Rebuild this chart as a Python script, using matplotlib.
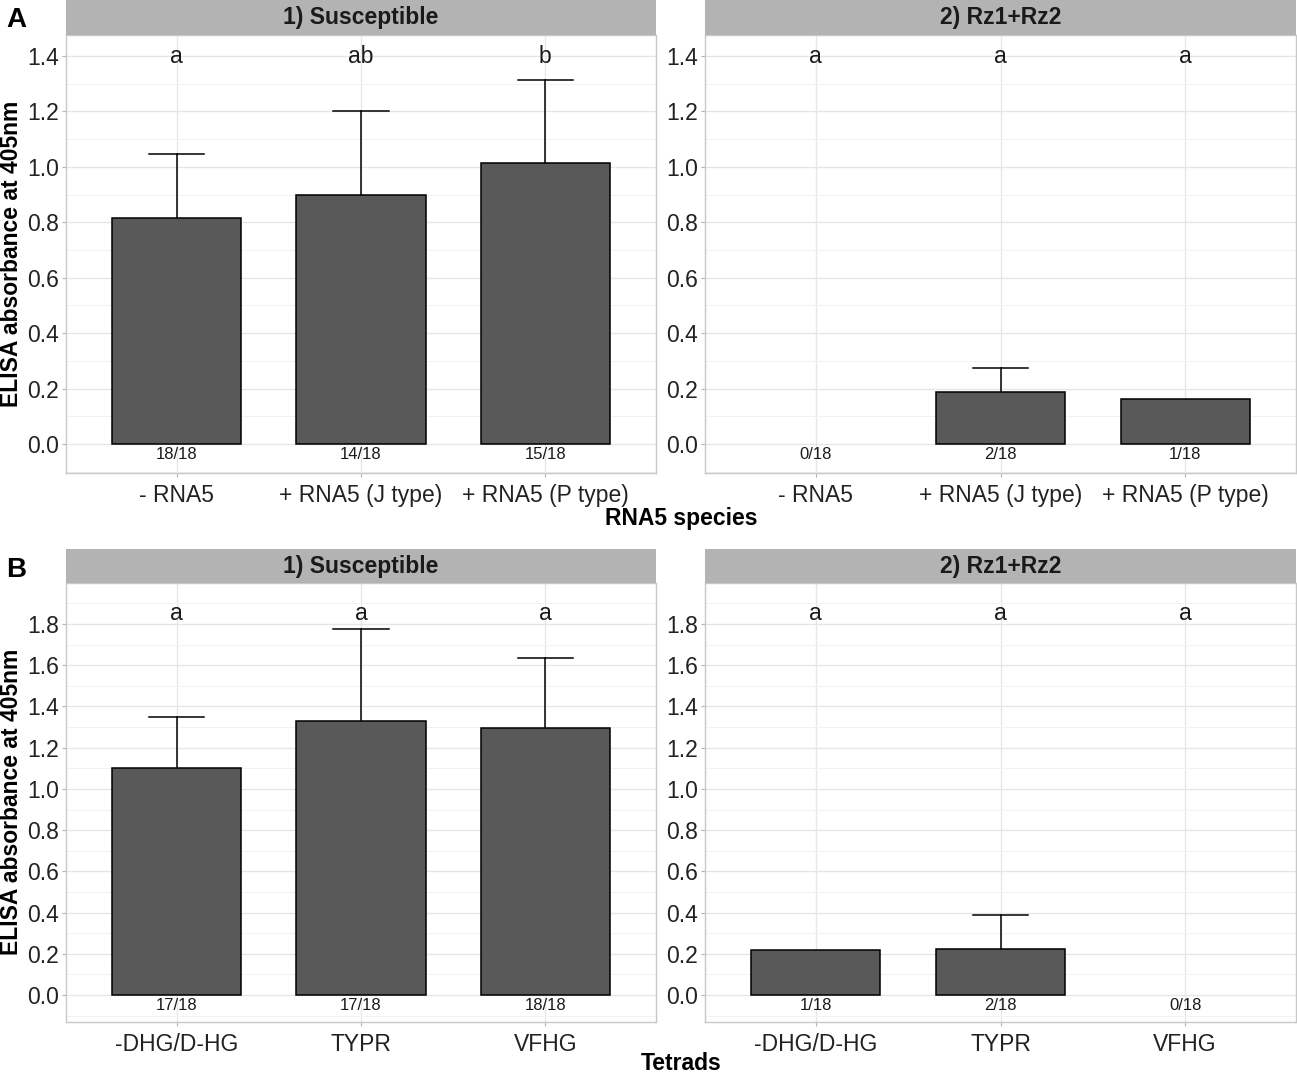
import numpy as np
import matplotlib
matplotlib.use("Agg")
import matplotlib.pyplot as plt
from matplotlib.ticker import MultipleLocator

plt.rcParams['font.family'] = ['Liberation Sans', 'DejaVu Sans']

# data
rna5_cats = ['- RNA5', '+ RNA5 (J type)', '+ RNA5 (P type)']
tetrad_cats = ['-DHG/D-HG', 'TYPR', 'VFHG']

a_sus_mean = [0.816, 0.899, 1.014]
a_sus_se = [0.231, 0.303, 0.300]
a_sus_letters = ['a', 'ab', 'b']
a_sus_counts = ['18/18', '14/18', '15/18']

a_rz_mean = [np.nan, 0.188, 0.162]
a_rz_se = [np.nan, 0.086, np.nan]
a_rz_letters = ['a', 'a', 'a']
a_rz_counts = ['0/18', '2/18', '1/18']

b_sus_mean = [1.101, 1.329, 1.295]
b_sus_se = [0.248, 0.447, 0.340]
b_sus_letters = ['a', 'a', 'a']
b_sus_counts = ['17/18', '17/18', '18/18']

b_rz_mean = [0.218, 0.223, np.nan]
b_rz_se = [np.nan, 0.165, np.nan]
b_rz_letters = ['a', 'a', 'a']
b_rz_counts = ['1/18', '2/18', '0/18']

W, H = 1297, 1073
fig = plt.figure(figsize=(W / 100, H / 100), dpi=100)


def rect(x0, y0, x1, y1):
    return [x0 / W, 1 - y1 / H, (x1 - x0) / W, (y1 - y0) / H]


def panel(box, strip_box, title, cats, mean, se, letters, counts, ylim, letter_y):
    ax = fig.add_axes(rect(*box))
    x = np.arange(len(cats))
    ax.bar(x, mean, width=0.7, color='#595959', edgecolor='black', linewidth=1.1, zorder=3)
    for xi, m, s in zip(x, mean, se):
        if np.isnan(m) or np.isnan(s):
            continue
        ax.plot([xi, xi], [m, m + s], color='black', lw=1.1, zorder=2)
        ax.plot([xi - 0.15, xi + 0.15], [m + s, m + s], color='black', lw=1.1, zorder=2)
    for xi, t in zip(x, letters):
        ax.text(xi, letter_y, t, ha='center', va='center', fontsize=16.5, color='#1a1a1a', zorder=4)
    for xi, t in zip(x, counts):
        ax.annotate(t, (xi, 0), xytext=(0, -2), textcoords='offset points',
                    ha='center', va='top', fontsize=12, color='#1a1a1a', zorder=4)
    ax.set_xlim(-0.6, len(cats) - 0.4)
    ax.set_ylim(*ylim)
    ax.set_xticks(x)
    ax.set_xticklabels(cats)
    ax.yaxis.set_major_locator(MultipleLocator(0.2))
    ax.yaxis.set_minor_locator(MultipleLocator(0.1))
    ax.yaxis.set_major_formatter(plt.FuncFormatter(lambda v, p: f'{v:.1f}'))
    ax.grid(which='major', color='#E6E6E6', lw=1.0, zorder=0)
    ax.grid(which='minor', axis='y', color='#F2F2F2', lw=0.7, zorder=0)
    ax.set_axisbelow(True)
    ax.tick_params(axis='both', which='major', length=3, color='#B3B3B3', labelsize=16.5,
                   labelcolor='#222222')
    ax.tick_params(axis='x', pad=5)
    ax.tick_params(axis='y', pad=2)
    ax.tick_params(which='minor', length=0)
    for sp in ax.spines.values():
        sp.set_color('#C8C8C8')
        sp.set_linewidth(1.0)
    st = fig.add_axes(rect(*strip_box))
    st.set_facecolor('#B3B3B3')
    st.set_xticks([])
    st.set_yticks([])
    for sp in st.spines.values():
        sp.set_visible(False)
    st.text(0.5, 0.5, title, ha='center', va='center', fontsize=16.5, fontweight='bold',
            color='#1a1a1a', transform=st.transAxes)
    return ax


ylim_a = (-0.105, 1.476)
ylim_b = (-0.131, 1.999)

panel((66, 35, 656, 473), (66, 0, 656, 35), '1) Susceptible', rna5_cats,
      a_sus_mean, a_sus_se, a_sus_letters, a_sus_counts, ylim_a, 1.40)
panel((705, 35, 1296, 473), (705, 0, 1296, 35), '2) Rz1+Rz2', rna5_cats,
      a_rz_mean, a_rz_se, a_rz_letters, a_rz_counts, ylim_a, 1.40)
panel((66, 583, 656, 1022), (66, 549, 656, 583), '1) Susceptible', tetrad_cats,
      b_sus_mean, b_sus_se, b_sus_letters, b_sus_counts, ylim_b, 1.85)
panel((705, 583, 1296, 1022), (705, 549, 1296, 583), '2) Rz1+Rz2', tetrad_cats,
      b_rz_mean, b_rz_se, b_rz_letters, b_rz_counts, ylim_b, 1.85)

# axis titles and panel tags
fig.text(681 / W, 1 - 518 / H, 'RNA5 species', ha='center', va='center',
         fontsize=16.5, fontweight='bold')
fig.text(681 / W, 1 - 1063 / H, 'Tetrads', ha='center', va='center',
         fontsize=16.5, fontweight='bold')
fig.text(12 / W, 1 - 254 / H, 'ELISA absorbance at 405nm', ha='center', va='center',
         rotation=90, fontsize=16.5, fontweight='bold')
fig.text(12 / W, 1 - 802 / H, 'ELISA absorbance at 405nm', ha='center', va='center',
         rotation=90, fontsize=16.5, fontweight='bold')
fig.text(6 / W, 1 - 20 / H, 'A', ha='left', va='center', fontsize=20, fontweight='bold')
fig.text(6 / W, 1 - 570 / H, 'B', ha='left', va='center', fontsize=20, fontweight='bold')

fig.savefig('out.png', dpi=100, facecolor='white')
